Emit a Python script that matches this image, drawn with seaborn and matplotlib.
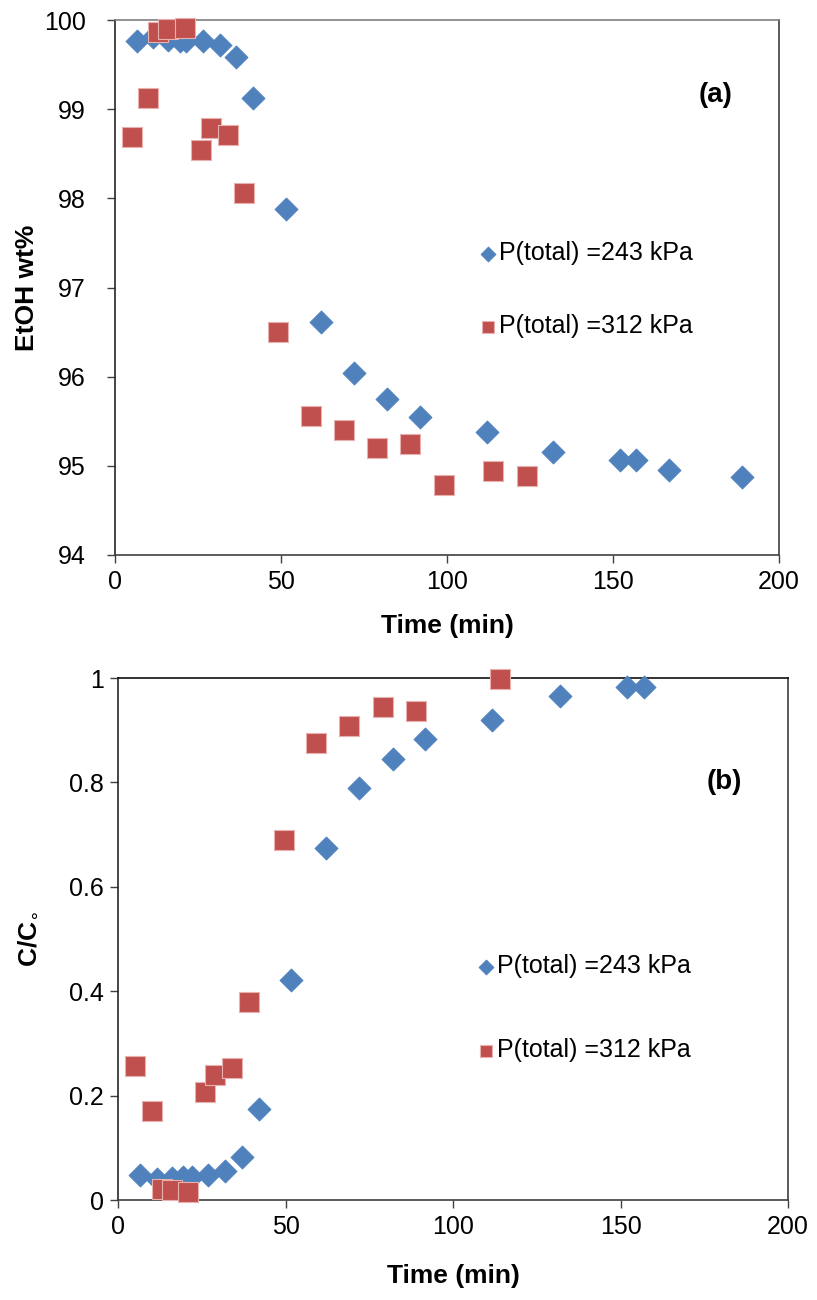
import matplotlib
matplotlib.use("Agg")
import matplotlib.pyplot as plt
import seaborn as sns
import pandas as pd

# --- data ---
# (a) EtOH wt% vs time
t_a_243 = [6.5, 11.5, 16, 19.5, 21.5, 26.5, 31.5, 36.5, 41.5, 51.5,
           62, 72, 82, 92, 112, 132, 152, 157, 167, 189]
etoh_243 = [99.76, 99.81, 99.78, 99.76, 99.76, 99.76, 99.72, 99.58, 99.12, 97.88,
            96.61, 96.04, 95.75, 95.55, 95.38, 95.15, 95.07, 95.07, 94.95, 94.88]
t_a_312 = [5, 10, 13, 16, 21, 26, 29, 34, 39, 49, 59, 69, 79, 89, 99, 114, 124]
etoh_312 = [98.69, 99.13, 99.87, 99.90, 99.91, 98.54, 98.79, 98.71, 98.06, 96.50,
            95.56, 95.40, 95.20, 95.25, 94.79, 94.94, 94.89]

# (b) C/Co vs time
t_b_243 = [6.5, 11.5, 16, 19.5, 22, 27, 32, 37, 42, 51.5,
           62, 72, 82, 91.5, 111.5, 132, 152, 157]
cc_243 = [0.048, 0.040, 0.042, 0.045, 0.045, 0.047, 0.056, 0.083, 0.174, 0.421,
          0.675, 0.789, 0.845, 0.884, 0.920, 0.965, 0.983, 0.983]
t_b_312 = [5, 10, 13, 16, 21, 26, 29, 34, 39, 49.5, 59, 69, 79, 89, 114]
cc_312 = [0.257, 0.170, 0.022, 0.019, 0.015, 0.207, 0.239, 0.252, 0.379, 0.690,
          0.876, 0.908, 0.945, 0.937, 0.998]

labels = ["P(total) =243 kPa", "P(total) =312 kPa"]
xticks = [0, 50, 100, 150, 200]

BLUE = "#4F81BD"
RED = "#C0504D"

sns.set_theme(style="white")
plt.rcParams['font.family'] = ['Liberation Sans', 'DejaVu Sans']
plt.rcParams['text.color'] = 'black'
plt.rcParams['axes.labelcolor'] = 'black'


def draw_panel(ax, t1, y1, t2, y2, ylim, yticks, ylabel, tag, tag_y, leg_anchor,
               leg_space, ypad):
    df1 = pd.DataFrame({"t": t1, "v": y1})
    df2 = pd.DataFrame({"t": t2, "v": y2})
    sns.scatterplot(data=df1, x="t", y="v", ax=ax, marker="D", s=140,
                    color=BLUE, edgecolor=BLUE, linewidth=0.5, label=labels[0],
                    zorder=3, clip_on=False)
    sns.scatterplot(data=df2, x="t", y="v", ax=ax, marker="s", s=200,
                    color=RED, edgecolor="#E8B0AE", linewidth=0.8, label=labels[1],
                    zorder=3, clip_on=False)
    ax.set_xlim(0, 200)
    ax.set_ylim(*ylim)
    ax.set_xticks(xticks)
    ax.set_yticks(yticks)
    ax.set_yticklabels([("%g" % v) for v in yticks])
    ax.tick_params(axis="both", direction="out", length=6, width=1,
                   bottom=True, left=True,
                   colors="#404040", labelcolor="black", labelsize=18)
    ax.tick_params(axis="y", pad=ypad)
    ax.tick_params(axis="x", pad=5)
    for sp in ax.spines.values():
        sp.set_linewidth(1.2)
    ax.spines["left"].set_color("#262626")
    ax.spines["bottom"].set_color("#404040")
    ax.set_xlabel("Time (min)", fontsize=19, fontweight="bold")
    ax.set_ylabel(ylabel, fontsize=19, fontweight="bold")
    ax.text(0.905, tag_y, tag, transform=ax.transAxes,
            fontsize=20, fontweight="bold", ha="center", va="center")
    leg = ax.legend(loc="upper left", bbox_to_anchor=leg_anchor, frameon=False,
                    fontsize=18, labelspacing=leg_space, handletextpad=0.0,
                    handlelength=0.9, markerscale=0.65, borderaxespad=0)
    return leg


fig = plt.figure(figsize=(8.17, 13.0), dpi=100)
ax1 = fig.add_axes([115 / 817, 1 - 555 / 1300, 664 / 817, 535 / 1300])
ax2 = fig.add_axes([118 / 817, 1 - 1200 / 1300, 670 / 817, 522 / 1300])

draw_panel(ax1, t_a_243, etoh_243, t_a_312, etoh_312, (94, 100),
           [94, 95, 96, 97, 98, 99, 100], "EtOH wt%", "(a)", 0.86,
           (0.53, 0.605), 1.95, 15)
ax1.spines["top"].set_color("#808080")
ax1.spines["right"].set_color("#404040")
ax1.yaxis.set_label_coords(-0.115, 0.5)
ax1.xaxis.set_label_coords(0.5, -0.11)

draw_panel(ax2, t_b_243, cc_243, t_b_312, cc_312, (0, 1),
           [0, 0.2, 0.4, 0.6, 0.8, 1.0], r"C/C$_{\circ}$", "(b)", 0.80,
           (0.517, 0.49), 2.4, 4)
ax2.spines["top"].set_color("#101010")
ax2.spines["right"].set_color("#404040")
ax2.yaxis.set_label_coords(-0.118, 0.5)
ax2.xaxis.set_label_coords(0.5, -0.122)

fig.savefig("out.png", dpi=100)
